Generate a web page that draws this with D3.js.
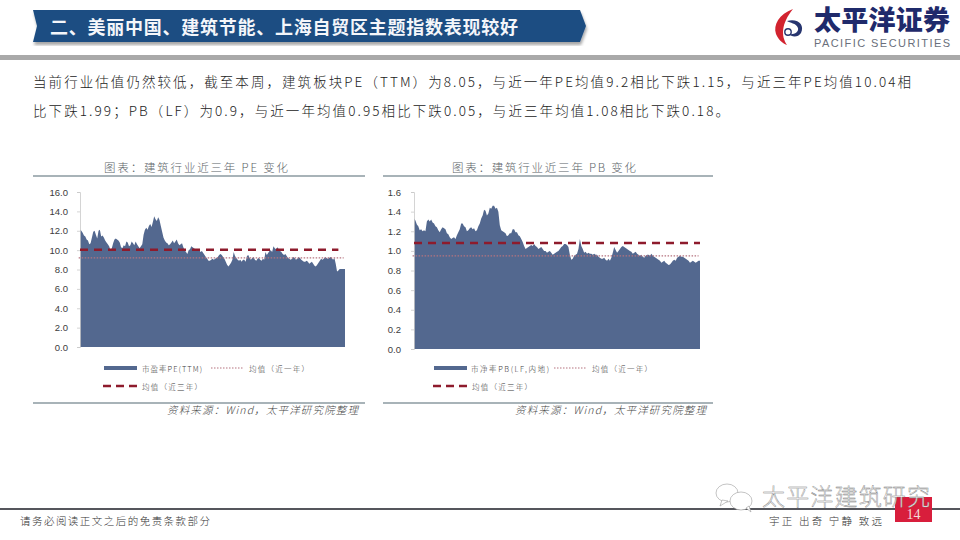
<!DOCTYPE html>
<html>
<head>
<meta charset="utf-8">
<script src="https://cdn.jsdelivr.net/npm/d3@7/dist/d3.min.js"></script>
<style>
html, body { margin: 0; padding: 0; background: #fff; }
text { font-family: "Noto Sans CJK SC", "Noto Sans", sans-serif; }
</style>
</head>
<body>
<div id="page"></div>
<script>
// values, one point about every 5.5 days
var peValues = [
	12.1, 12.0, 11.8, 11.5, 11.4, 11.1, 11.0, 10.6, 10.7, 11.3, 11.9, 12.0, 11.6, 11.2, 12.0, 12.1, 11.4, 11.5, 11.3, 11.0,
	10.8, 10.6, 10.4, 10.0, 10.2, 10.7, 11.1, 11.2, 11.1, 11.0, 10.8, 10.3, 10.2, 10.5, 10.4, 10.9, 10.8, 10.4, 10.5, 10.9,
	10.7, 10.5, 10.9, 10.6, 10.4, 10.2, 10.4, 10.6, 11.6, 12.1, 12.3, 12.1, 12.5, 12.7, 12.4, 12.9, 13.5, 13.2, 13.0, 13.4,
	13.1, 12.5, 11.9, 11.3, 11.0, 10.8, 10.7, 10.5, 10.6, 10.8, 11.0, 10.7, 10.9, 11.1, 10.7, 10.5, 10.6, 10.7, 10.3, 10.0,
	9.8, 9.6, 10.0, 10.1, 10.4, 10.3, 10.2, 10.1, 10.0, 9.9, 10.0, 9.8, 9.9, 9.7, 9.5, 9.3, 9.1, 8.9, 8.9, 9.0,
	9.1, 9.0, 9.1, 9.2, 9.3, 9.5, 9.6, 9.5, 9.3, 9.1, 8.8, 8.5, 8.3, 8.5, 8.7, 9.0, 9.8, 9.4, 9.2, 9.0,
	8.9, 9.0, 8.8, 9.0, 9.0, 8.8, 9.4, 9.5, 9.2, 9.0, 9.2, 9.3, 9.0, 8.9, 9.1, 9.2, 9.0, 8.9, 9.1, 9.0,
	9.8, 9.5, 9.7, 9.9, 10.0, 9.8, 10.4, 10.2, 10.1, 10.3, 10.1, 9.9, 9.8, 9.6, 9.5, 9.6, 9.4, 9.2, 9.1, 9.0,
	9.1, 9.3, 9.2, 9.0, 9.1, 9.3, 9.2, 9.0, 8.9, 8.8, 8.8, 8.9, 8.8, 8.6, 8.7, 8.8, 8.6, 8.4, 8.3, 8.5,
	8.7, 8.9, 9.1, 9.0, 9.1, 9.3, 9.2, 9.1, 9.2, 9.3, 9.2, 9.0, 9.2, 8.6, 7.8, 7.9, 8.05, 8.05, 8.05, 8.05,
	8.05
];
var pbValues = [
	1.33, 1.31, 1.27, 1.25, 1.21, 1.22, 1.20, 1.21, 1.20, 1.30, 1.32, 1.30, 1.32, 1.29, 1.28, 1.25, 1.24, 1.21, 1.19, 1.22,
	1.24, 1.23, 1.22, 1.18, 1.17, 1.14, 1.12, 1.13, 1.14, 1.12, 1.16, 1.19, 1.22, 1.28, 1.28, 1.25, 1.24, 1.20, 1.21, 1.23,
	1.24, 1.22, 1.23, 1.20, 1.21, 1.25, 1.28, 1.33, 1.36, 1.42, 1.41, 1.36, 1.38, 1.44, 1.43, 1.46, 1.46, 1.43, 1.44, 1.40,
	1.26, 1.21, 1.20, 1.19, 1.18, 1.15, 1.16, 1.18, 1.18, 1.22, 1.22, 1.19, 1.19, 1.16, 1.15, 1.12, 1.09, 1.05, 1.02, 1.03,
	1.04, 1.05, 1.06, 1.05, 1.07, 1.05, 1.04, 1.02, 1.03, 1.04, 1.02, 1.00, 1.00, 0.98, 0.99, 1.00, 0.98, 0.96, 0.97, 0.98,
	0.99, 1.00, 1.02, 1.04, 1.05, 1.07, 1.07, 1.06, 1.04, 0.96, 0.91, 0.92, 0.95, 0.96, 0.97, 1.02, 1.12, 1.05, 1.02, 0.98,
	0.99, 0.97, 0.98, 0.97, 0.97, 0.96, 0.97, 0.96, 0.96, 0.94, 0.93, 0.92, 0.92, 0.93, 0.91, 0.90, 0.92, 0.90, 0.93, 0.98,
	1.04, 1.01, 0.98, 1.00, 1.02, 1.04, 1.05, 1.04, 1.03, 1.02, 1.01, 1.00, 0.99, 0.97, 0.98, 0.99, 0.97, 0.96, 0.95, 0.96,
	0.94, 0.93, 0.95, 0.96, 0.96, 0.95, 0.97, 0.95, 0.94, 0.93, 0.92, 0.91, 0.90, 0.88, 0.89, 0.90, 0.88, 0.87, 0.855, 0.86,
	0.88, 0.90, 0.91, 0.90, 0.93, 0.94, 0.95, 0.94, 0.94, 0.93, 0.92, 0.91, 0.90, 0.88, 0.89, 0.90, 0.89, 0.88, 0.89, 0.90,
	0.90
];
var xTickLabels = ["2018-06-04", "2019-06-04", "2020-06-04", "2021-06-04"];
var xTickIndex = [0, 66, 133, 200];
var peTicks = [0, 2, 4, 6, 8, 10, 12, 14, 16];
var pbTicks = [0, 0.2, 0.4, 0.6, 0.8, 1.0, 1.2, 1.4, 1.6];
var peMeans = { oneYear: 9.2, threeYear: 10.04 };
var pbMeans = { oneYear: 0.95, threeYear: 1.08 };
var bodyLines = [
	"当前行业估值仍然较低，截至本周，建筑板块PE（TTM）为8.05，与近一年PE均值9.2相比下跌1.15，与近三年PE均值10.04相",
	"比下跌1.99；PB（LF）为0.9，与近一年均值0.95相比下跌0.05，与近三年均值1.08相比下跌0.18。"
];

var BLUE = "#53688f", RED = "#8e1b2c", DOT = "#b5737f", RULE = "#8b9aa0", INK = "#3c3c3c";

var svg = d3.select("#page").append("svg")
	.attr("width", 960).attr("height", 540)
	.style("display", "block");

// ---- header
var defs = svg.append("defs");
var shadow = defs.append("filter").attr("id", "shadow");
shadow.append("feDropShadow").attr("dx", 1).attr("dy", 3).attr("stdDeviation", 1.5).attr("flood-opacity", 0.35);

svg.append("path")
	.attr("d", "M33,10 L580,10 L586,26 L580,42 L33,42 L37,26 Z")
	.attr("fill", "#1f4e82")
	.attr("filter", "url(#shadow)");

svg.append("text")
	.attr("x", 50).attr("y", 34)
	.attr("fill", "#f4f6fa").attr("font-size", 18).attr("font-weight", 700)
	.attr("textLength", 468)
	.text("二、美丽中国、建筑节能、上海自贸区主题指数表现较好");

svg.append("rect").attr("x", 0).attr("y", 55).attr("width", 960).attr("height", 5).attr("fill", "#a9a9a9");

// logo
var logo = svg.append("g");
logo.append("path")
	.attr("d", "M793,9 C779,14 773,25 776,34 C778,39 782,43 787,45 C781,36 781,24 793,9 Z")
	.attr("fill", "#d2232f");
logo.append("path")
	.attr("d", "M787,21 C798,18 805,25 801,33 C798,38 791,37 789,34 C794,35 799,32 798,28 C796,23 790,23 787,21 Z")
	.attr("fill", "#27356f");
logo.append("circle").attr("cx", 788).attr("cy", 32).attr("r", 3.2)
	.attr("fill", "none").attr("stroke", "#27356f").attr("stroke-width", 1.4);
logo.append("text")
	.attr("x", 814).attr("y", 30)
	.attr("fill", "#1f2a6b").attr("font-size", 27).attr("font-weight", 900)
	.attr("textLength", 136)
	.text("太平洋证券");
logo.append("text")
	.attr("x", 814).attr("y", 47)
	.attr("fill", "#6a6f7b").attr("font-size", 11)
	.style("font-family", "Liberation Sans")
	.attr("textLength", 136)
	.text("PACIFIC SECURITIES");

// ---- body text
svg.selectAll("text.body")
	.data(bodyLines)
	.enter().append("text")
	.attr("class", "body")
	.attr("x", 33)
	.attr("y", function(d, i){ return 87 + i * 29; })
	.attr("fill", "#222").attr("font-size", 13.5).attr("font-weight", 300)
	.attr("textLength", function(d, i){ return i == 0 ? 878 : 696; })
	.text(function(d){ return d; });

// ---- charts
function drawChart(opt){
	var g = svg.append("g");
	var clipId = "clip" + opt.id;

	defs.append("clipPath").attr("id", clipId)
		.append("rect").attr("x", opt.clipLeft).attr("y", 150).attr("width", opt.clipWidth).attr("height", 260);

	g.append("text")
		.attr("x", opt.titleX).attr("y", 172)
		.attr("fill", "#5c6468").attr("font-size", 11.5).attr("font-weight", 300)
		.attr("textLength", 184)
		.text(opt.title);

	g.append("line").attr("x1", opt.ruleX0).attr("x2", opt.ruleX1).attr("y1", 176).attr("y2", 176)
		.attr("stroke", RULE).attr("stroke-width", 1.5);
	g.append("line").attr("x1", opt.ruleX0).attr("x2", opt.ruleX1).attr("y1", 403).attr("y2", 403)
		.attr("stroke", RULE).attr("stroke-width", 1.5);

	var x = d3.scaleLinear().domain([0, 200]).range([opt.left, opt.right]);
	var y = d3.scaleLinear().domain([opt.ticks[0], opt.ticks[opt.ticks.length - 1]]).range([opt.bottom, 192]);

	var area = d3.area()
		.x(function(d, i){ return x(i); })
		.y0(y(0))
		.y1(function(d){ return y(d); });

	g.append("path").datum(opt.values)
		.attr("d", area)
		.attr("fill", BLUE);

	var yAxis = d3.axisLeft(y).tickValues(opt.ticks).tickSize(3).tickPadding(opt.yPad).tickFormat(d3.format(".1f"));
	var yG = g.append("g").attr("transform", "translate(" + opt.left + ",0)").call(yAxis);

	var xAxis = d3.axisBottom(x).tickValues(xTickIndex).tickSize(3)
		.tickFormat(function(d, i){ return xTickLabels[i]; });
	var xG = g.append("g").attr("transform", "translate(0," + opt.bottom + ")")
		.attr("clip-path", "url(#" + clipId + ")")
		.call(xAxis);

	[yG, xG].forEach(function(a){
		a.selectAll("path, line").attr("stroke", "#c9c9c9").attr("stroke-width", 0.8);
		a.selectAll("text")
			.attr("fill", INK)
			.style("font-family", "Liberation Sans");
	});
	yG.selectAll("text").attr("font-size", 9.5);
	xG.selectAll("text").attr("font-size", 8.8).attr("y", 6);

	// mean lines
	var meanLine = d3.line().x(function(d){ return x(d[0]); }).y(function(d){ return y(d[1]); });
	g.append("path").datum([[-1, opt.means.oneYear], [199, opt.means.oneYear]])
		.attr("d", meanLine)
		.attr("fill", "none").attr("stroke", DOT).attr("stroke-width", 1.2)
		.attr("stroke-dasharray", "1.5 1.5");
	g.append("path").datum([[0, opt.means.threeYear], [opt.meanEnd, opt.means.threeYear]])
		.attr("d", meanLine)
		.attr("fill", "none").attr("stroke", RED).attr("stroke-width", 2.4)
		.attr("stroke-dasharray", "8 6");

	// legend
	var lg = g.append("g").attr("font-size", 7.5).attr("fill", INK).attr("font-weight", 300);
	lg.append("rect").attr("x", opt.leg[0]).attr("y", 366).attr("width", 33).attr("height", 4).attr("fill", BLUE);
	lg.append("text").attr("x", opt.leg[1]).attr("y", 371.5).attr("textLength", opt.leg[5]).text(opt.seriesName);
	lg.append("line").attr("x1", opt.leg[2]).attr("x2", opt.leg[2] + 33).attr("y1", 368).attr("y2", 368)
		.attr("stroke", DOT).attr("stroke-width", 1.2).attr("stroke-dasharray", "1.5 1.5");
	lg.append("text").attr("x", opt.leg[3]).attr("y", 371.5).attr("textLength", 60).text("均值（近一年）");
	lg.append("line").attr("x1", opt.leg[0] - 1).attr("x2", opt.leg[0] + 34).attr("y1", 386).attr("y2", 386)
		.attr("stroke", RED).attr("stroke-width", 2.4).attr("stroke-dasharray", "8 5");
	lg.append("text").attr("x", opt.leg[4]).attr("y", 389.5).attr("textLength", 60).text("均值（近三年）");

	g.append("text")
		.attr("x", opt.ruleX1 - 198).attr("y", 414)
		.attr("fill", "#444").attr("font-size", 10.5).attr("font-style", "italic").attr("font-weight", 300)
		.attr("textLength", 191)
		.text("资料来源：Wind，太平洋研究院整理");
}

drawChart({
	id: "pe", title: "图表：建筑行业近三年 PE 变化", titleX: 104,
	values: peValues, ticks: peTicks, means: peMeans, meanEnd: 195,
	left: 80, right: 345, bottom: 347, yPad: 9,
	ruleX0: 33, ruleX1: 365, clipLeft: 30, clipWidth: 336,
	seriesName: "市盈率PE(TTM)", leg: [104, 142, 211, 249, 142, 60]
});

drawChart({
	id: "pb", title: "图表：建筑行业近三年 PB 变化", titleX: 452,
	values: pbValues, ticks: pbTicks, means: pbMeans, meanEnd: 200,
	left: 414, right: 700, bottom: 349, yPad: 10,
	ruleX0: 383, ruleX1: 713, clipLeft: 375, clipWidth: 360,
	seriesName: "市净率PB(LF,内地)", leg: [434, 471, 554, 592, 472, 78]
});

// ---- footer
svg.append("rect").attr("x", 0).attr("y", 508).attr("width", 960).attr("height", 2).attr("fill", "#55565c");
svg.append("text").attr("x", 20).attr("y", 525)
	.attr("fill", "#333").attr("font-size", 10.5).attr("font-weight", 300)
	.attr("textLength", 190)
	.text("请务必阅读正文之后的免责条款部分");
svg.append("text").attr("x", 769).attr("y", 525)
	.attr("fill", "#333").attr("font-size", 10.5).attr("font-weight", 300)
	.attr("textLength", 113)
	.text("宇正 出奇 宁静 致远");
svg.append("rect").attr("x", 895).attr("y", 497).attr("width", 37).attr("height", 25).attr("fill", "#d81e3c");
svg.append("text").attr("x", 913.5).attr("y", 519)
	.attr("text-anchor", "middle")
	.attr("fill", "#f3d9d9").attr("font-size", 14)
	.style("font-family", "Liberation Serif")
	.text("14");

// watermark
var mark = svg.append("g").attr("fill", "#fff").attr("stroke", "#9c9c9c").attr("stroke-width", 0.6);
mark.append("ellipse").attr("cx", 727).attr("cy", 493).attr("rx", 11).attr("ry", 9);
mark.append("path").attr("d", "M722,500 L720,506 L728,501 Z");
mark.append("ellipse").attr("cx", 741).attr("cy", 501).attr("rx", 11).attr("ry", 9);
mark.append("path").attr("d", "M746,508 L751,512 L749,506 Z");
svg.append("text").attr("x", 762).attr("y", 505)
	.attr("fill", "#fff").attr("stroke", "#7a7a7a").attr("stroke-width", 0.4)
	.attr("font-size", 23).attr("font-weight", 300)
	.attr("textLength", 168)
	.text("太平洋建筑研究");
</script>
</body>
</html>
